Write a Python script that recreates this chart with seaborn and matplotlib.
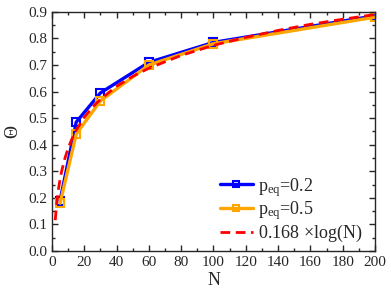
import numpy as np
import pandas as pd
import seaborn as sns
import matplotlib.pyplot as plt
from matplotlib.ticker import MultipleLocator

# data
N = [5, 15, 30, 60, 100, 200]
theta_02 = [0.19, 0.485, 0.595, 0.71, 0.785, 0.885]
theta_05 = [0.18, 0.44, 0.565, 0.70, 0.78, 0.88]

# fit curve 0.168*log(N), sampled points
N_fit = [2, 3, 4, 5, 6, 8, 10, 12, 15, 20, 25, 30, 40, 50, 60, 80, 100, 120, 140, 160, 180, 200]
theta_fit = [0.116, 0.185, 0.233, 0.270, 0.301, 0.349, 0.387, 0.417, 0.455, 0.503, 0.541,
             0.571, 0.620, 0.657, 0.688, 0.736, 0.774, 0.804, 0.830, 0.853, 0.872, 0.890]

sns.set_style("ticks")
plt.rcParams["font.family"] = "serif"
plt.rcParams["font.serif"] = ["Liberation Serif", "DejaVu Serif"]
plt.rcParams["mathtext.fontset"] = "custom"
plt.rcParams["mathtext.rm"] = "Liberation Serif"
plt.rcParams["mathtext.it"] = "Liberation Serif:italic"

fig, ax = plt.subplots(figsize=(3.91, 2.96), dpi=100)
fig.subplots_adjust(left=0.133, right=0.959, top=0.96, bottom=0.152)

df1 = pd.DataFrame({"N": N, "theta": theta_02})
df2 = pd.DataFrame({"N": N, "theta": theta_05})
df3 = pd.DataFrame({"N": N_fit, "theta": theta_fit})

sns.lineplot(data=df1, x="N", y="theta", ax=ax, color="#0000ff", lw=2.4,
             marker="s", markersize=5.5, markerfacecolor="none", markeredgecolor="#0000ff",
             markeredgewidth=1.5, label=r"p$_{\rm eq}$=0.2")
sns.lineplot(data=df2, x="N", y="theta", ax=ax, color="#ffa500", lw=2.4,
             marker="s", markersize=5.5, markerfacecolor="none", markeredgecolor="#ffa500",
             markeredgewidth=1.5, label=r"p$_{\rm eq}$=0.5")
sns.lineplot(data=df3, x="N", y="theta", ax=ax, color="#ff0000", lw=2.0,
             linestyle=(0, (3.5, 2)), label=r"0.168 $\times$log(N)")

ax.set_xlim(0, 200)
ax.set_ylim(0, 0.9)
ax.xaxis.set_major_locator(MultipleLocator(20))
ax.xaxis.set_minor_locator(MultipleLocator(10))
ax.yaxis.set_major_locator(MultipleLocator(0.1))
ax.yaxis.set_minor_locator(MultipleLocator(0.05))
ax.yaxis.set_major_formatter(plt.FuncFormatter(lambda v, p: f"{v:.1f}"))
ax.tick_params(which="both", direction="in", top=True, right=True, labelsize=11, width=1)
ax.tick_params(which="major", length=4)
ax.tick_params(which="minor", length=2)
for s in ax.spines.values():
    s.set_linewidth(1)

ax.set_xlabel("N", fontsize=13, labelpad=2)
ax.set_ylabel("Θ", fontsize=13, labelpad=5)

ax.legend(loc="lower right", bbox_to_anchor=(1.0, -0.025), frameon=False, fontsize=13,
          handlelength=1.8, borderaxespad=0.3, labelspacing=0.05, handletextpad=0.3,
          markerscale=0.9)

plt.savefig("out.png", dpi=100)
